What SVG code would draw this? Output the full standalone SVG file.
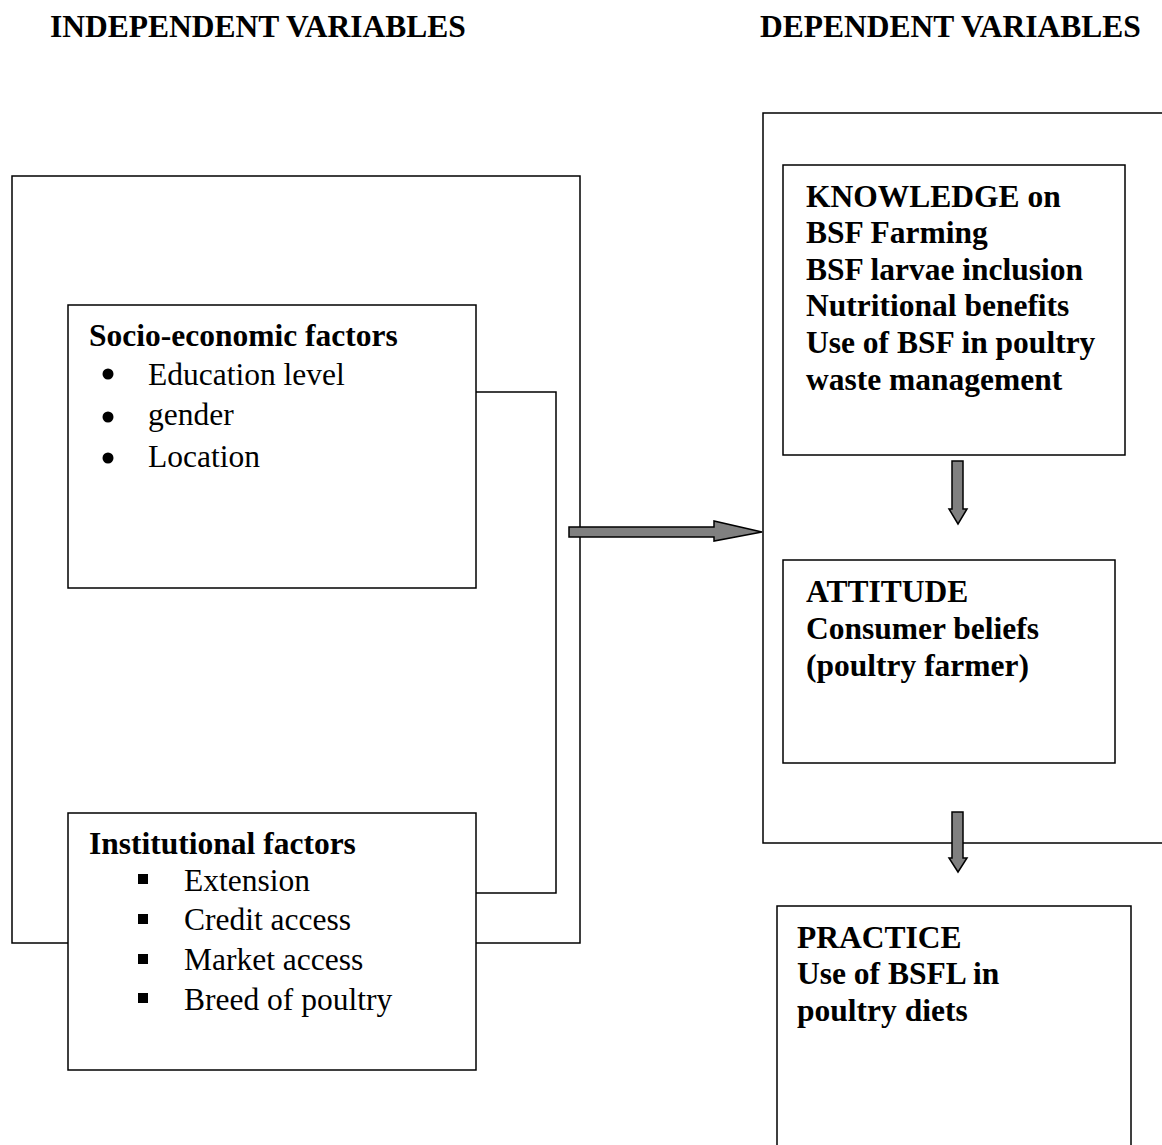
<svg xmlns="http://www.w3.org/2000/svg" width="1162" height="1145" viewBox="0 0 1162 1145">
<style>
.box{fill:#fff;stroke:#000;stroke-width:1.5}
.frame{fill:none;stroke:#000;stroke-width:1.5}
.t{font-family:"Liberation Serif","Times New Roman",serif;font-size:31.5px;fill:#000}
.b{font-weight:bold}
.h{font-family:"Liberation Serif","Times New Roman",serif;font-size:31.5px;font-weight:bold;fill:#000}
.arrow{fill:#808080;stroke:#000;stroke-width:1.5;stroke-linejoin:miter}
</style>
<rect width="1162" height="1145" fill="#fff"/>
<text class="h" x="50" y="37">INDEPENDENT VARIABLES</text>
<text class="h" x="760" y="37">DEPENDENT VARIABLES</text>
<g id="independent-frame"><rect class="frame" x="12" y="176" width="568" height="767"/></g>
<g id="dependent-frame"><rect class="frame" x="763" y="113" width="420" height="730"/></g>
<g id="connectors">
<polyline class="frame" points="476,392 556,392 556,893 476,893"/>
<polygon class="arrow" points="569,527 714,527 714,521 762,532 714,541 714,537 569,537"/>
<polygon class="arrow" points="952,461 963,461 963,509 967,509 958,524 949,509 952,509"/>
<polygon class="arrow" points="952,812 963,812 963,858 967,858 958,872 949,858 952,858"/>
</g>
<g id="socio">
<rect class="box" x="68" y="305" width="408" height="283"/>
<text class="t b" x="89" y="346">Socio-economic factors</text>
<circle cx="108" cy="374" r="5.5"/><text class="t" x="148" y="385">Education level</text>
<circle cx="108" cy="417" r="5.5"/><text class="t" x="148" y="425">gender</text>
<circle cx="108" cy="458" r="5.5"/><text class="t" x="148" y="467">Location</text>
</g>
<g id="institutional">
<rect class="box" x="68" y="813" width="408" height="257"/>
<text class="t b" x="89" y="854">Institutional factors</text>
<rect x="138" y="874" width="10" height="10"/><text class="t" x="184" y="891">Extension</text>
<rect x="138" y="914" width="10" height="10"/><text class="t" x="184" y="930">Credit access</text>
<rect x="138" y="954" width="10" height="10"/><text class="t" x="184" y="970">Market access</text>
<rect x="138" y="993" width="10" height="10"/><text class="t" x="184" y="1010">Breed of poultry</text>
</g>
<g id="knowledge">
<rect class="box" x="783" y="165" width="342" height="290"/>
<text class="t b" x="806" y="207">KNOWLEDGE on</text>
<text class="t b" x="806" y="243">BSF Farming</text>
<text class="t b" x="806" y="280">BSF larvae inclusion</text>
<text class="t b" x="806" y="316">Nutritional benefits</text>
<text class="t b" x="806" y="353">Use of BSF in poultry</text>
<text class="t b" x="806" y="390">waste management</text>
</g>
<g id="attitude">
<rect class="box" x="783" y="560" width="332" height="203"/>
<text class="t b" x="806" y="602">ATTITUDE</text>
<text class="t b" x="806" y="639">Consumer beliefs</text>
<text class="t b" x="806" y="676">(poultry farmer)</text>
</g>
<g id="practice">
<rect class="box" x="777" y="906" width="354" height="260"/>
<text class="t b" x="797" y="948">PRACTICE</text>
<text class="t b" x="797" y="984">Use of BSFL in</text>
<text class="t b" x="797" y="1021">poultry diets</text>
</g>
</svg>
